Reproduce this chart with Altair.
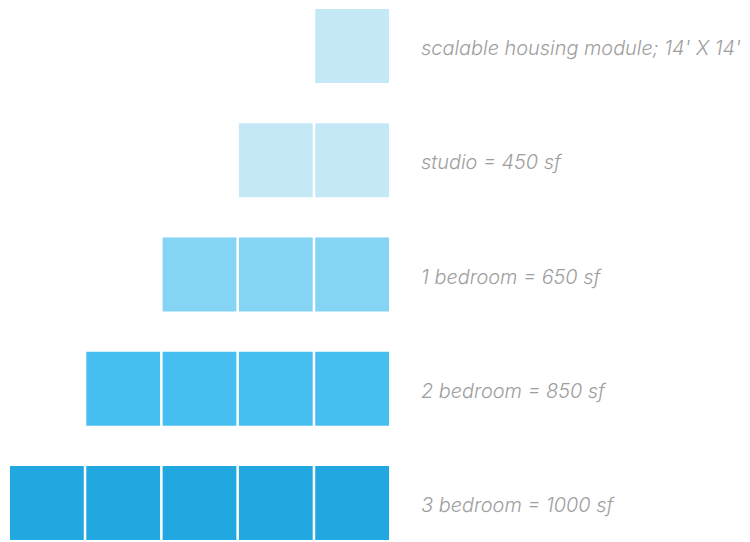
import altair as alt
import pandas as pd

labels = [
    "scalable housing module; 14' X 14'",
    "studio = 450 sf",
    "1 bedroom = 650 sf",
    "2 bedroom = 850 sf",
    "3 bedroom = 1000 sf",
]
modules = [1, 2, 3, 4, 5]
colors = ["#C5E8F7", "#C5E8F7", "#85D4F3", "#46BFF0", "#22A8E0"]
max_cols = 5

rows = []
for i, (lab, n) in enumerate(zip(labels, modules)):
    for c in range(max_cols - n, max_cols):
        rows.append({"row": i, "col": c, "label": lab})
squares = pd.DataFrame(rows)
text_df = pd.DataFrame({"row": list(range(len(labels))), "label": labels})

yscale = alt.Scale(paddingInner=0.352, paddingOuter=0)

rects = alt.Chart(squares).mark_rect().encode(
    x=alt.X("col:O", axis=None,
            scale=alt.Scale(domain=list(range(max_cols)), paddingInner=0.033, paddingOuter=0)),
    y=alt.Y("row:O", axis=None, scale=yscale),
    color=alt.Color("label:N", legend=None,
                    scale=alt.Scale(domain=labels, range=colors)),
)

texts = alt.Chart(text_df).mark_text(
    align="left", baseline="middle", font="Inter", fontStyle="italic",
    fontWeight=300, fontSize=19.9, color="#9E9E9E", dy=3,
).encode(
    x=alt.value(411),
    y=alt.Y("row:O", axis=None, scale=yscale, bandPosition=0.5),
    text="label:N",
)

chart = alt.layer(rects, texts).properties(
    width=379, height=531,
    padding={"left": 2, "top": 1, "right": 353, "bottom": 0},
    autosize=alt.AutoSizeParams(type="none"),
).configure_view(stroke=None)

chart.save("out.html", embed_options={"renderer": "svg", "actions": False})
